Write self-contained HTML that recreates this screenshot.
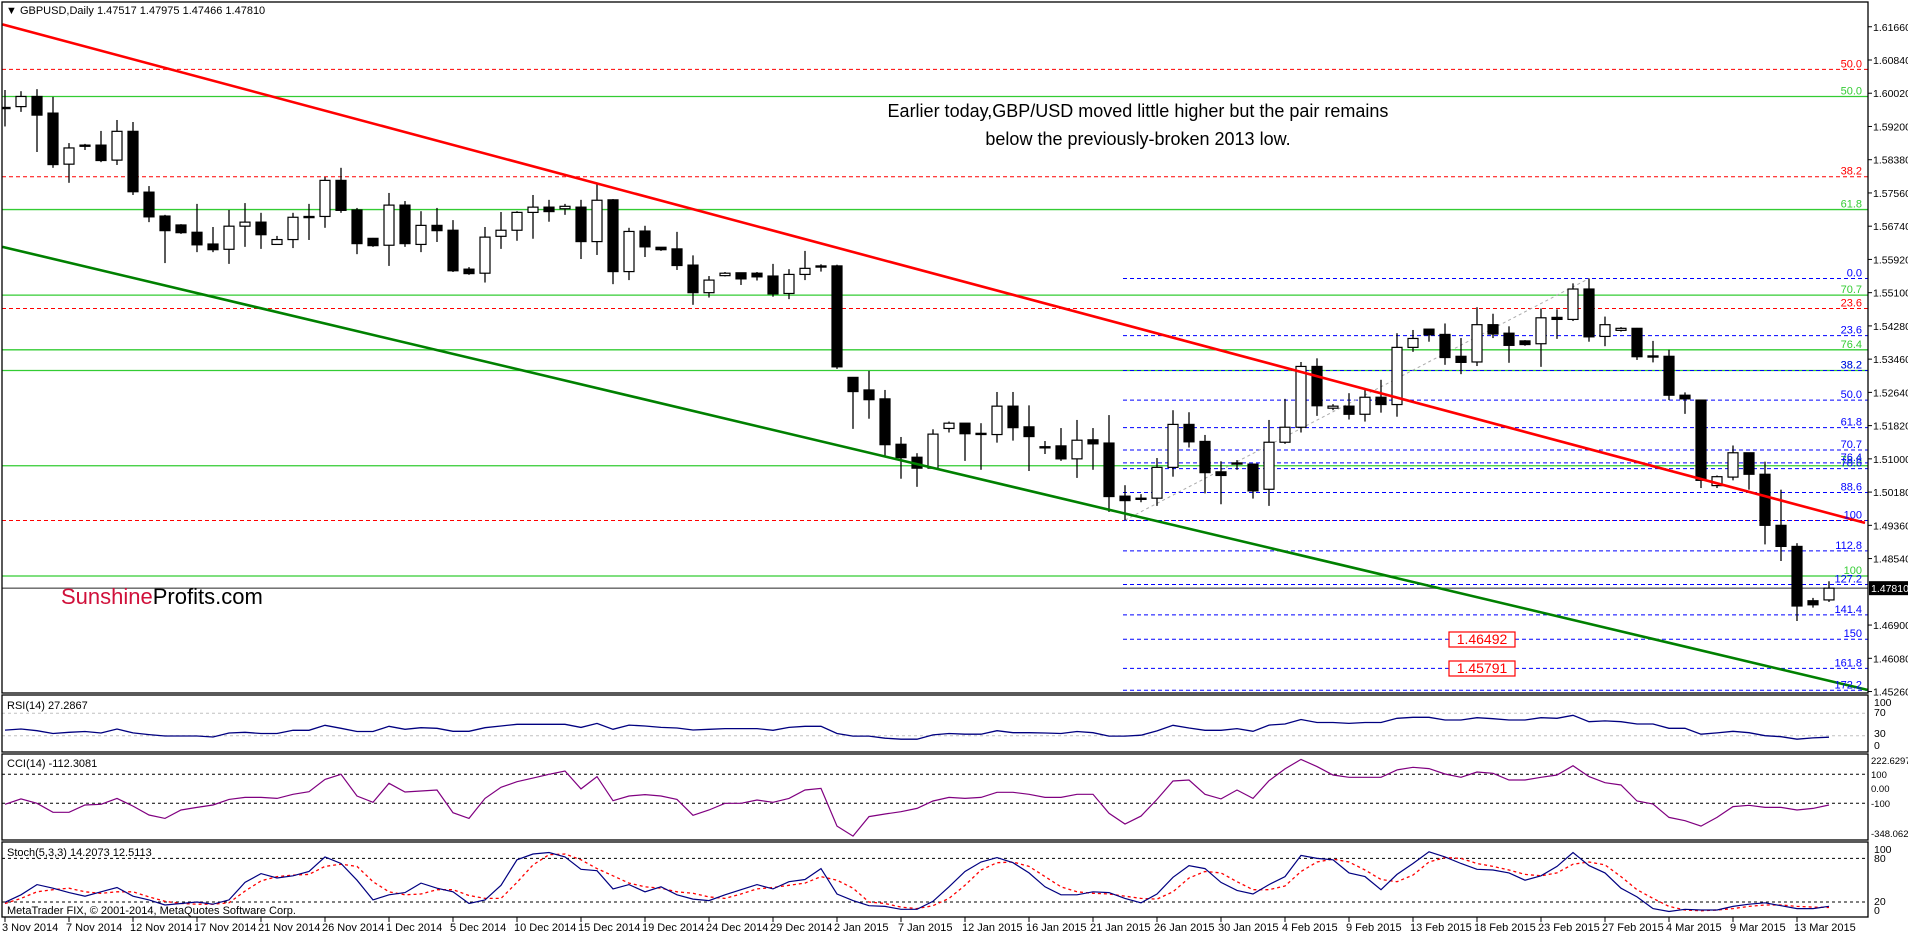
<!DOCTYPE html>
<html><head><meta charset="utf-8">
<style>
html,body{margin:0;padding:0;background:#fff;}
svg{display:block;font-family:"Liberation Sans",sans-serif;}
</style></head>
<body>
<svg id="chart" width="1908" height="935" viewBox="0 0 1908 935" xmlns="http://www.w3.org/2000/svg">
<defs>
<clipPath id="mainClip"><rect x="2" y="2" width="1866" height="691"/></clipPath>
<clipPath id="rsiClip"><rect x="2" y="695" width="1866" height="57"/></clipPath>
<clipPath id="cciClip"><rect x="2" y="754" width="1866" height="86"/></clipPath>
<clipPath id="stoClip"><rect x="2" y="842" width="1866" height="75"/></clipPath>
</defs>
<rect x="0" y="0" width="1908" height="935" fill="#fff"/>
<g id="main-pane"></g>
<g id="rsi-pane"></g>
<g id="cci-pane"></g>
<g id="sto-pane"></g>
<g id="axes"></g>
</svg>
<script>
const opens=[1.5964,1.5969,1.5994,1.5953,1.5827,1.5874,1.5874,1.5837,1.5908,1.5758,
1.5699,1.5677,1.5659,1.5630,1.5617,1.5674,1.5684,1.5629,1.5641,1.5698,
1.5698,1.5787,1.5714,1.5644,1.5627,1.5726,1.5629,1.5676,1.5664,1.5568,
1.5558,1.5649,1.5664,1.5708,1.5721,1.5717,1.5721,1.5636,1.5739,1.5562,
1.5662,1.5622,1.5618,1.5578,1.5510,1.5552,1.5559,1.5558,1.5551,1.5508,
1.5555,1.5574,1.5576,1.5301,1.5270,1.5248,1.5136,1.5104,1.5077,1.5175,
1.5188,1.5163,1.5160,1.5230,1.5179,1.5130,1.5132,1.5100,1.5147,1.5139,
1.5008,1.5003,1.5003,1.5079,1.5185,1.5143,1.5068,1.5088,1.5087,1.5025,
1.5141,1.5178,1.5328,1.5225,1.5230,1.5210,1.5252,1.5234,1.5375,1.5420,
1.5407,1.5353,1.5339,1.5431,1.5410,1.5391,1.5384,1.5449,1.5444,1.5519,
1.5402,1.5417,1.5422,1.5354,1.5353,1.5257,1.5245,1.5034,1.5055,1.5115,
1.5062,1.4936,1.4884,1.4750,1.4752];
const highs=[1.6010,1.6007,1.6012,1.5993,1.5879,1.5877,1.5909,1.5936,1.5931,1.5773,
1.5702,1.5679,1.5729,1.5672,1.5714,1.5731,1.5707,1.5650,1.5707,1.5729,
1.5795,1.5818,1.5719,1.5645,1.5756,1.5736,1.5711,1.5719,1.5689,1.5573,
1.5672,1.5709,1.5711,1.5751,1.5739,1.5729,1.5739,1.5780,1.5741,1.5670,
1.5675,1.5622,1.5660,1.5602,1.5551,1.5561,1.5559,1.5561,1.5581,1.5568,
1.5613,1.5580,1.5579,1.5302,1.5317,1.5270,1.5154,1.5114,1.5173,1.5192,
1.5188,1.5188,1.5265,1.5265,1.5232,1.5144,1.5176,1.5196,1.5176,1.5208,
1.5035,1.5013,1.5102,1.5220,1.5215,1.5159,1.5094,1.5097,1.5087,1.5196,
1.5248,1.5339,1.5348,1.5235,1.5262,1.5272,1.5295,1.5410,1.5418,1.5420,
1.5434,1.5398,1.5474,1.5458,1.5427,1.5393,1.5471,1.5469,1.5533,1.5545,
1.5451,1.5425,1.5423,1.5391,1.5369,1.5264,1.5245,1.5059,1.5133,1.5115,
1.5093,1.5024,1.4892,1.4757,1.4798];
const lows=[1.5920,1.5956,1.5857,1.5818,1.5781,1.5862,1.5832,1.5825,1.5751,1.5684,
1.5583,1.5655,1.5610,1.5610,1.5581,1.5623,1.5618,1.5628,1.5620,1.5640,
1.5670,1.5707,1.5605,1.5623,1.5576,1.5623,1.5610,1.5635,1.5561,1.5554,
1.5535,1.5618,1.5638,1.5643,1.5685,1.5702,1.5593,1.5603,1.5531,1.5541,
1.5598,1.5613,1.5566,1.5480,1.5498,1.5550,1.5529,1.5540,1.5500,1.5494,
1.5541,1.5562,1.5322,1.5174,1.5199,1.5105,1.5051,1.5031,1.5076,1.5165,
1.5095,1.5073,1.5140,1.5145,1.5070,1.5112,1.5095,1.5053,1.5073,1.4969,
1.4949,1.4993,1.4984,1.5056,1.5128,1.5015,1.4988,1.5073,1.5002,1.4984,
1.5137,1.5165,1.5206,1.5220,1.5197,1.5192,1.5214,1.5204,1.5364,1.5389,
1.5332,1.5309,1.5329,1.5398,1.5337,1.5379,1.5327,1.5396,1.5440,1.5389,
1.5378,1.5414,1.5344,1.5338,1.5245,1.5211,1.5028,1.5028,1.5047,1.5024,
1.4889,1.4848,1.4700,1.4733,1.4747];
const closes=[1.5967,1.5994,1.5948,1.5826,1.5867,1.5874,1.5836,1.5908,1.5759,1.5697,
1.5663,1.5658,1.5628,1.5616,1.5674,1.5684,1.5653,1.5641,1.5696,1.5696,
1.5787,1.5713,1.5631,1.5626,1.5726,1.5631,1.5676,1.5663,1.5564,1.5557,
1.5647,1.5664,1.5708,1.5721,1.5710,1.5723,1.5636,1.5738,1.5562,1.5661,
1.5623,1.5616,1.5577,1.5510,1.5541,1.5558,1.5544,1.5549,1.5507,1.5555,
1.5570,1.5576,1.5327,1.5266,1.5246,1.5135,1.5103,1.5077,1.5161,1.5188,
1.5162,1.5162,1.5230,1.5177,1.5155,1.5130,1.5100,1.5146,1.5137,1.5007,
1.4997,1.5003,1.5079,1.5185,1.5142,1.5066,1.5059,1.5090,1.5021,1.5141,
1.5178,1.5328,1.5231,1.5230,1.5210,1.5252,1.5234,1.5375,1.5397,1.5406,
1.5350,1.5338,1.5431,1.5408,1.5380,1.5382,1.5448,1.5444,1.5519,1.5401,
1.5431,1.5422,1.5352,1.5352,1.5257,1.5248,1.5047,1.5056,1.5115,1.5062,
1.4936,1.4884,1.4737,1.4740,1.4781];
const rsiValues=[40,42,39,34,36,37.5,34.8,42,35,32,29.5,29.5,29.5,27.7,34.8,36,34,34,39.6,39.6,48.5,43.2,37.5,37.5,46.7,41.4,44.3,43.2,37.9,37.9,44.3,47.3,50.3,50.3,50.3,50.3,44.9,52,41.4,49,
47.3,44.9,43.8,40.2,41.4,42.6,42.6,42.6,39.6,44.9,46.7,46.7,34,29.2,29.2,25.6,23.8,23.8,31.5,34,32.7,32.7,39,35.4,35.4,34.8,34,37.5,35.4,29.2,29.2,30.9,38.5,48.5,43.8,39.6,39.6,42.6,37.9,49,
50.9,59,53.6,53.6,52,53.6,53.6,61,62.8,62.8,58,58,62.2,60.4,58,58,62.2,61,66.4,55,56.5,55,50.9,50.9,43.2,43.2,32.7,35,37.9,35.4,30,28.3,23.8,26,27.3];
const cciValues=[-107,-70,-100,-162,-162,-112,-107,-66,-119,-181,-204,-146,-128,-112,-73,-59,-59,-66,-38,-20,65,100,-50,-93,38,-22,-15,-8,-165,-204,-66,10,49,74,100,123,-1,84,-82,-50,
-40,-50,-73,-183,-146,-100,-100,-77,-93,-66,-8,3,-257,-326,-192,-174,-158,-135,-84,-59,-66,-59,-24,-24,-38,-59,-59,-38,-38,-169,-243,-188,-73,54,61,-38,-70,-8,-66,56,
137,203,153,95,79,79,79,130,148,139,102,79,116,107,61,61,79,95,159,84,42,26,-84,-105,-197,-220,-257,-197,-123,-114,-128,-128,-146,-135,-112];
const stochMain=[19.6,30,44,39,33,28,34,40,28,23,16,18,20,17,23,47,59,53,56,62,82,73,50,23,30,33,46,39,34,18,23,43,78,86,88,82,65,63,38,44,
34,41,30,24,22,30,37,44,38,48,51,66,31,22,15,14,10,10,21,41,62,75,81,74,60,41,30,30,34,33,25,19,31,54,70,66,47,36,31,44,
55,84,80,78,60,55,37,58,73,89,82,73,65,64,60,50,56,69,88,70,60,39,27,11,7,10,9,9,14,17,19,15,11,11,14.2];
const stochSignal=[18,25,34,37,39,34,32,34,34,27,21,18,17,17,19,35,49,55,57,58,69,72,69,48,34,30,31,37,37,29,25,25,47,71,85,86,78,66,56,46,
41,39,34,32,27,25,31,38,40,43,46,55,50,39,20,18,13,11,15,25,43,64,74,75,69,55,41,34,32,31,28,25,24,34,53,62,60,48,37,37,
42,62,75,79,75,64,51,48,57,75,81,80,73,69,64,58,56,60,72,75,71,55,37,25,14,9,8,9,11,14,16,16,14,13,12.5];
const dateLabels=["3 Nov 2014","7 Nov 2014","12 Nov 2014","17 Nov 2014","21 Nov 2014","26 Nov 2014","1 Dec 2014","5 Dec 2014","10 Dec 2014","15 Dec 2014","19 Dec 2014","24 Dec 2014","29 Dec 2014","2 Jan 2015","7 Jan 2015","12 Jan 2015","16 Jan 2015","21 Jan 2015","26 Jan 2015","30 Jan 2015","4 Feb 2015","9 Feb 2015","13 Feb 2015","18 Feb 2015","23 Feb 2015","27 Feb 2015","4 Mar 2015","9 Mar 2015","13 Mar 2015"];
const priceTicks=["1.61660","1.60840","1.60020","1.59200","1.58380","1.57560","1.56740","1.55920","1.55100","1.54280","1.53460","1.52640","1.51820","1.51000","1.50180","1.49360","1.48540","1.46900","1.46080","1.45260"];
const redFibLevels=[1.6061,1.5796,1.5471,1.4948];
const redFibLabels=["50.0","38.2","23.6",""];
const greenFibLevels=[1.5994,1.5715,1.5504,1.5369,1.5318,1.5083,1.4811];
const greenFibLabels=["50.0","61.8","70.7","76.4","38.2","78.6","100"];
const blueFibLevels=[1.5545,1.5404,1.5318,1.5245,1.5177,1.5122,1.5090,1.5076,1.5017,1.4948,1.4873,1.4790,1.4715,1.4655,1.4583,1.4529];
const blueFibLabels=["0.0","23.6","38.2","50.0","61.8","70.7","76.4","78.6","88.6","100","112.8","127.2","141.4","150","161.8","172.2"];
const redTrend=[[-0.16,1.6172],[116.25,1.4942]];
const greenTrend=[[-0.16,1.5623],[116.4,1.4530]];
const fibAnchor=[[70,1.4949],[99,1.5545]];
const lastPrice=1.4781;
const targetLevels=["1.46492","1.45791"];

const NS="http://www.w3.org/2000/svg";
function mk(tag,attrs,parent){const e=document.createElementNS(NS,tag);for(const k in attrs)e.setAttribute(k,attrs[k]);parent.appendChild(e);return e;}
const X=i=>5+16*i;
const Y=p=>(1.6232-p)/0.0002467;
const Yr=v=>752.5-0.56*v;
const Yc=v=>788.8-0.145*v;
const Ys=v=>916.6-0.728*v;
const R=1868;

const main=document.getElementById('main-pane');
const mg=mk('g',{'clip-path':'url(#mainClip)'},main);
redFibLevels.forEach((p,k)=>{const l=mk('line',{x1:2,x2:R,y1:Y(p),y2:Y(p),stroke:'#ff0000','stroke-width':1,'stroke-dasharray':'4,3'},mg);

});
greenFibLevels.forEach((p,k)=>{const l=mk('line',{x1:2,x2:R,y1:Y(p),y2:Y(p),stroke:'#33cc33','stroke-width':1.3},mg);

});
blueFibLevels.forEach((p,k)=>{const l=mk('line',{x1:X(70)-2,x2:R,y1:Y(p),y2:Y(p),stroke:'#0000ff','stroke-width':1,'stroke-dasharray':'4,3'},mg);

});
const cp=mk('line',{x1:2,x2:R,y1:Y(lastPrice),y2:Y(lastPrice),stroke:'#606060','stroke-width':1.3},mg);


const fa=mk('line',{x1:X(fibAnchor[0][0]),y1:Y(fibAnchor[0][1]),x2:X(fibAnchor[1][0]),y2:Y(fibAnchor[1][1]),stroke:'#aaaaaa','stroke-width':1,'stroke-dasharray':'3,3'},mg);


for(let i=0;i<opens.length;i++){
  const g=mk('g',{},mg);
  
  
  const x=X(i),o=Y(opens[i]),c=Y(closes[i]);
  mk('line',{x1:x,x2:x,y1:Y(highs[i]),y2:Y(lows[i]),stroke:'#000','stroke-width':1.3},g);
  const up=closes[i]>=opens[i];
  const top=Math.min(o,c),h=Math.max(Math.abs(o-c),1.2);
  mk('rect',{x:x-5,y:top,width:10,height:h,fill:up?'#fff':'#000',stroke:'#000','stroke-width':1.2},g);
}
const rt=mk('line',{x1:X(redTrend[0][0]),y1:Y(redTrend[0][1]),x2:X(redTrend[1][0]),y2:Y(redTrend[1][1]),stroke:'#ff0000','stroke-width':2.6},mg);


const gt=mk('line',{x1:X(greenTrend[0][0]),y1:Y(greenTrend[0][1]),x2:X(greenTrend[1][0]),y2:Y(greenTrend[1][1]),stroke:'#008000','stroke-width':2.6},mg);


function lbl(txt,p,col,par){const t=mk('text',{x:1862,y:Y(p)-2,fill:col,'font-size':11,'text-anchor':'end'},par);t.textContent=txt;

}
redFibLevels.forEach((p,k)=>{if(redFibLabels[k])lbl(redFibLabels[k],p,'#ff0000',main);});
greenFibLevels.forEach((p,k)=>lbl(greenFibLabels[k],p,'#33cc33',main));
blueFibLevels.forEach((p,k)=>lbl(blueFibLabels[k],p,'#0000ff',main));
targetLevels.forEach((s,k)=>{const y=[632,661][k];
 const b=mk('g',{},main);
 
 
 mk('rect',{x:1449,y:y,width:66,height:15,fill:'#fff',stroke:'#ff0000','stroke-width':1.2},b);
 const t=mk('text',{x:1482,y:y+12,fill:'#ff0000','font-size':14,'text-anchor':'middle'},b);t.textContent=s;});
const an=mk('text',{x:1138,y:117,'font-size':18,'text-anchor':'middle',fill:'#000'},main);


an.textContent='Earlier today,GBP/USD moved little higher but the pair remains';
const an2=mk('text',{x:1138,y:145,'font-size':18,'text-anchor':'middle',fill:'#000'},main);


an2.textContent='below the previously-broken 2013 low.';
const logo=mk('text',{x:61,y:604,'font-size':22,fill:'#000'},main);


logo.innerHTML='<tspan fill="#d0103a">Sunshine</tspan>Profits.com';
const hd=mk('text',{x:6,y:14,'font-size':11,fill:'#000'},main);


hd.textContent='▼ GBPUSD,Daily  1.47517 1.47975 1.47466 1.47810';

function poly(vals,fy,col,par,dash,w,name){let d='';vals.forEach((v,i)=>{d+=(i?'L':'M')+X(i).toFixed(1)+','+fy(v).toFixed(1);});
 const p=mk('path',{d:d,fill:'none',stroke:col,'stroke-width':w||1.2},par);if(dash)p.setAttribute('stroke-dasharray',dash);
 
 }
function hl(y,col,dash,par){mk('line',{x1:2,x2:R,y1:y,y2:y,stroke:col,'stroke-width':1,'stroke-dasharray':dash},par);}
function ptxt(s,x,y,par,anchor,name,fs){const t=mk('text',{x:x,y:y,'font-size':fs||11,fill:'#000','text-anchor':anchor||'start'},par);t.textContent=s;
 
 return t;}

const rsi=document.getElementById('rsi-pane');
const rg=mk('g',{'clip-path':'url(#rsiClip)'},rsi);
hl(Yr(70),'#c0c0c0','3,3',rg);hl(Yr(30),'#c0c0c0','3,3',rg);
poly(rsiValues,Yr,'#000080',rg,null,1.3,'rsi-line');
ptxt('RSI(14) 27.2867',7,709,rsi,'start','rsi-label');

const cci=document.getElementById('cci-pane');
const cg=mk('g',{'clip-path':'url(#cciClip)'},cci);
hl(Yc(100),'#000','3,3',cg);hl(Yc(-100),'#000','3,3',cg);
poly(cciValues,Yc,'#800080',cg,null,1.2,'cci-line');
ptxt('CCI(14) -112.3081',7,767,cci,'start','cci-label');

const sto=document.getElementById('sto-pane');
const sg=mk('g',{'clip-path':'url(#stoClip)'},sto);
hl(Ys(80),'#000','3,3',sg);hl(Ys(20),'#000','3,3',sg);
poly(stochSignal,Ys,'#ff0000',sg,'3,3',1.3,'stoch-signal-line');
poly(stochMain,Ys,'#000080',sg,null,1.2,'stoch-main-line');
ptxt('Stoch(5,3,3) 14.2073 12.5113',7,856,sto,'start','stoch-label');
ptxt('MetaTrader FIX, © 2001-2014, MetaQuotes Software Corp.',7,914,sto,'start','copyright-text');

const ax=document.getElementById('axes');
[[2,2,1866,691],[2,695,1866,57],[2,754,1866,86],[2,842,1866,75]].forEach(r=>{
 const f=mk('rect',{x:r[0],y:r[1],width:r[2],height:r[3],fill:'none',stroke:'#000','stroke-width':1.3},ax);
 
 });
priceTicks.forEach(s=>{const y=Y(parseFloat(s));mk('line',{x1:R,x2:R+4,y1:y,y2:y,stroke:'#000'},ax);ptxt(s,1873,y+4,ax,'start','price-tick-label',10.5);});
const pb=mk('rect',{x:1869,y:Y(lastPrice)-7,width:39,height:14,fill:'#000'},ax);


const pt=mk('text',{x:1871,y:Y(lastPrice)+4,'font-size':10.5,fill:'#fff'},ax);pt.textContent='1.47810';
[['100',706],['70',716],['30',737],['0',749]].forEach(a=>ptxt(a[0],1874,a[1],ax,'start','rsi-tick-label',10.5));
[['222.6297',764],['100',778],['0.00',792],['-100',807],['-348.0625',837]].forEach(a=>ptxt(a[0],1871,a[1],ax,'start','cci-tick-label',9.5));
[['100',853],['80',862],['20',905],['0',914]].forEach(a=>ptxt(a[0],1874,a[1],ax,'start','stoch-tick-label',10.5));
dateLabels.forEach((s,k)=>{const x=X(k*4);mk('line',{x1:x,x2:x,y1:917,y2:922,stroke:'#000'},ax);ptxt(s,x-3,931,ax,'start','date-label');});
</script>
</body></html>
